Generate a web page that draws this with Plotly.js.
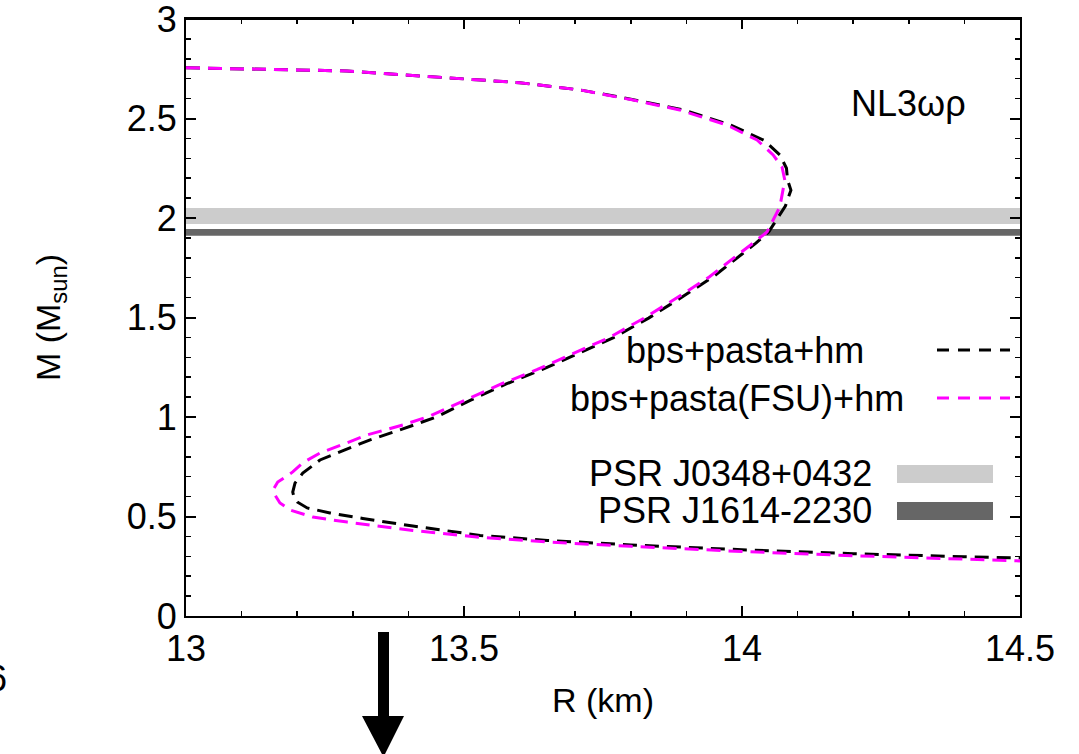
<!DOCTYPE html>
<html><head><meta charset="utf-8">
<script src="https://cdn.plot.ly/plotly-3.0.1.min.js"></script>
<style>html,body{margin:0;padding:0;background:#fff;overflow:hidden;}#plot{width:1079px;height:754px;}</style>
</head><body><div id="plot"></div>
<script>
// bps+pasta+hm (black)
const rBlack = [13.0, 13.29, 13.6, 13.71, 13.80, 13.895, 13.98, 14.04, 14.068, 14.08, 14.082, 14.088, 14.078, 14.062, 14.048, 14.025, 14.0, 13.948, 13.895, 13.832, 13.769, 13.704, 13.64, 13.576, 13.512, 13.45, 13.39, 13.33, 13.28, 13.241, 13.21, 13.196, 13.192, 13.194, 13.2, 13.218, 13.259, 13.318, 13.408, 13.529, 13.65, 13.8, 14.0, 14.2, 14.4, 14.5];
const mBlack = [2.755, 2.739, 2.68, 2.643, 2.597, 2.543, 2.467, 2.39, 2.317, 2.25, 2.19, 2.14, 2.06, 1.99, 1.93, 1.874, 1.819, 1.704, 1.608, 1.497, 1.399, 1.319, 1.238, 1.166, 1.085, 1.0, 0.94, 0.884, 0.83, 0.784, 0.718, 0.668, 0.623, 0.60, 0.573, 0.543, 0.518, 0.49, 0.452, 0.405, 0.38, 0.357, 0.333, 0.313, 0.298, 0.291];
// bps+pasta(FSU)+hm (magenta)
const rFSU = [13.0, 13.29, 13.6, 13.71, 13.80, 13.888, 13.973, 14.027, 14.056, 14.072, 14.077, 14.074, 14.068, 14.056, 14.045, 14.02, 13.995, 13.941, 13.888, 13.824, 13.761, 13.696, 13.631, 13.567, 13.503, 13.439, 13.39, 13.326, 13.28, 13.241, 13.21, 13.192, 13.165, 13.158, 13.160, 13.169, 13.187, 13.228, 13.29, 13.349, 13.408, 13.529, 13.65, 13.8, 14.0, 14.2, 14.4, 14.5];
const mFSU = [2.755, 2.739, 2.68, 2.643, 2.595, 2.543, 2.467, 2.392, 2.317, 2.256, 2.19, 2.141, 2.055, 1.99, 1.93, 1.874, 1.819, 1.704, 1.608, 1.497, 1.399, 1.319, 1.238, 1.166, 1.085, 1.005, 0.96, 0.91, 0.86, 0.819, 0.77, 0.724, 0.673, 0.64, 0.608, 0.568, 0.533, 0.497, 0.472, 0.45, 0.43, 0.395, 0.372, 0.35, 0.324, 0.303, 0.285, 0.277];
// pulsar mass bands
const bandNames = ["PSR J0348+0432", "PSR J1614-2230"];
const bandLow = [1.97, 1.911];
const bandHigh = [2.05, 1.945];
const seriesNames = ["bps+pasta+hm", "bps+pasta(FSU)+hm"];
const modelLabel = "NL3\u03c9\u03c1";
// ticks
const xTickVals = [13, 13.5, 14, 14.5];
const xTickText = ["13", "13.5", "14", "14.5"];
const yTickVals = [0, 0.5, 1, 1.5, 2, 2.5, 3];
const yTickText = ["0", "0.5", "1", "1.5", "2", "2.5", "3"];

const FONT = "Liberation Sans, Arial, sans-serif";
const bandColors = ["#cccccc", "#666666"];
const dash = "14px,8px";

const traces = [
  {x: rBlack, y: mBlack, mode: "lines", name: seriesNames[0], line: {color: "#000000", width: 3, dash: dash}},
  {x: rFSU, y: mFSU, mode: "lines", name: seriesNames[1], line: {color: "#ff00ff", width: 3, dash: dash}}
];

const L = 186, R = 1020, T = 19, B = 616;
const px = v => (v - L) / (R - L);
const py = v => (B - v) / (B - T);

const shapes = [];
bandLow.forEach((lo, i) => {
  shapes.push({type: "rect", xref: "paper", yref: "y", x0: 0, x1: 1, y0: lo, y1: bandHigh[i],
    fillcolor: bandColors[i], line: {width: 0}, layer: "below"});
});
// top frame edge
shapes.push({type: "line", xref: "paper", yref: "paper", x0: 0, x1: 1, y0: 1, y1: 1, line: {color: "#000000", width: 2}});
// legend samples
shapes.push({type: "line", xref: "paper", yref: "paper", x0: px(937), x1: px(1010), y0: py(350), y1: py(350), line: {color: "#000", width: 3, dash: "12px,9px"}});
shapes.push({type: "line", xref: "paper", yref: "paper", x0: px(937), x1: px(1010), y0: py(398), y1: py(398), line: {color: "#ff00ff", width: 3, dash: "12px,9px"}});
shapes.push({type: "rect", xref: "paper", yref: "paper", x0: px(897), x1: px(993), y0: py(483), y1: py(465), fillcolor: bandColors[0], line: {width: 0}});
shapes.push({type: "rect", xref: "paper", yref: "paper", x0: px(897), x1: px(993), y0: py(520), y1: py(502), fillcolor: bandColors[1], line: {width: 0}});
// arrow below axis
const ax = [px(378), px(389), px(404), px(383.5), px(362)];
const ay = [py(632), py(716), py(757)];
shapes.push({type: "path", xref: "paper", yref: "paper",
  path: `M ${ax[0]} ${ay[0]} L ${ax[1]} ${ay[0]} L ${ax[1]} ${ay[1]} L ${ax[2]} ${ay[1]} L ${ax[3]} ${ay[2]} L ${ax[4]} ${ay[1]} L ${ax[0]} ${ay[1]} Z`,
  fillcolor: "#000", line: {width: 0}});

const tf = {family: FONT, size: 36, color: "#000"};
const annotations = [
  {xref: "paper", yref: "paper", x: px(866), y: py(350), xanchor: "right", yanchor: "middle", text: seriesNames[0], showarrow: false, font: tf},
  {xref: "paper", yref: "paper", x: px(906), y: py(398), xanchor: "right", yanchor: "middle", text: seriesNames[1], showarrow: false, font: tf},
  {xref: "paper", yref: "paper", x: px(874), y: py(474), xanchor: "right", yanchor: "middle", text: bandNames[0], showarrow: false, font: tf},
  {xref: "paper", yref: "paper", x: px(874), y: py(510), xanchor: "right", yanchor: "middle", text: bandNames[1], showarrow: false, font: tf},
  {xref: "paper", yref: "paper", x: px(908), y: py(104), xanchor: "center", yanchor: "middle", text: modelLabel, showarrow: false, font: tf},
  {xref: "paper", yref: "paper", x: px(9), y: py(678), xanchor: "right", yanchor: "middle", text: "6", showarrow: false, font: tf}
];

const layout = {
  width: 1079, height: 754,
  margin: {l: L, r: 1079 - R, t: T, b: 754 - B},
  paper_bgcolor: "#fff", plot_bgcolor: "#fff",
  showlegend: false,
  xaxis: {range: [13, 14.5], tickvals: xTickVals, ticktext: xTickText, automargin: false, ticklabeloverflow: "allow",
    showgrid: false, zeroline: false, showline: true, linecolor: "#000", linewidth: 2,
    mirror: "allticks", ticks: "inside", ticklen: 10, tickwidth: 2, tickcolor: "#000", tickfont: tf,
    minor: {dtick: 0.1, tick0: 13, ticks: "inside", ticklen: 5, tickwidth: 1.5, tickcolor: "#000"},
    title: {text: "R (km)", font: {family: FONT, size: 34, color: "#000"}, standoff: 20}},
  yaxis: {range: [0, 3], tickvals: yTickVals, ticktext: yTickText, automargin: false, ticklabeloverflow: "allow",
    showgrid: false, zeroline: false, showline: true, linecolor: "#000", linewidth: 2,
    mirror: "ticks", ticks: "inside", ticklen: 10, tickwidth: 2, tickcolor: "#000", tickfont: tf,
    minor: {dtick: 0.1, tick0: 0, ticks: "inside", ticklen: 5, tickwidth: 1.5, tickcolor: "#000"},
    title: {text: "M (M<sub>sun</sub>)", font: {family: FONT, size: 34, color: "#000"}, standoff: 56}},
  shapes: shapes,
  annotations: annotations
};

Plotly.newPlot("plot", traces, layout, {staticPlot: true, displayModeBar: false});
</script>
</body></html>
